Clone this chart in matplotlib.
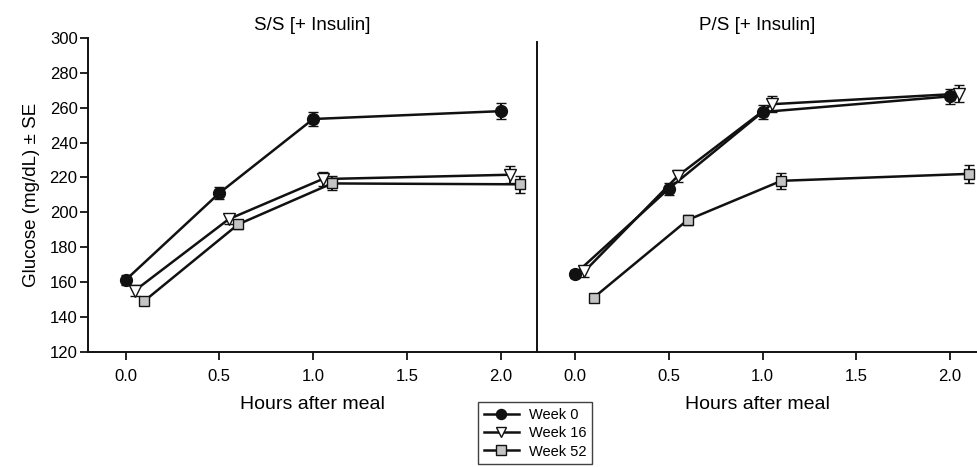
#!/usr/bin/env python3
"""Glucose response after a meal, S/S vs P/S diets with insulin, weeks 0/16/52."""

import matplotlib
matplotlib.use("Agg")
import matplotlib.pyplot as plt
from matplotlib.lines import Line2D

plt.rcParams["font.family"] = ["Liberation Sans", "DejaVu Sans"]

hours = [0.0, 0.5, 1.0, 2.0]
week_labels = ["Week 0", "Week 16", "Week 52"]
panel_titles = ["S/S [+ Insulin]", "P/S [+ Insulin]"]

# S/S panel
ss_week0 = [161.0, 211.0, 253.5, 258.0]
ss_week0_se = [3.0, 3.5, 4.0, 4.5]
ss_week16 = [155.0, 196.0, 219.0, 221.5]
ss_week16_se = [3.0, 3.0, 4.0, 5.0]
ss_week52 = [149.0, 193.0, 216.5, 216.0]
ss_week52_se = [2.0, 2.5, 4.0, 5.0]

# P/S panel
ps_week0 = [164.5, 213.5, 257.5, 266.5]
ps_week0_se = [2.5, 3.5, 4.0, 4.5]
ps_week16 = [166.0, 221.0, 262.0, 268.0]
ps_week16_se = [3.0, 3.5, 4.5, 5.0]
ps_week52 = [151.0, 195.5, 218.0, 222.0]
ps_week52_se = [1.5, 3.0, 4.5, 5.0]

y_ticks = [120, 140, 160, 180, 200, 220, 240, 260, 280, 300]
x_ticks = [0.0, 0.5, 1.0, 1.5, 2.0]

# style per week: marker, face colour, x jitter so the points do not overlap
STYLES = [
    dict(marker="o", mfc="#111111", ms=8.5, dx=0.0),
    dict(marker="v", mfc="white", ms=8.5, dx=0.05),
    dict(marker="s", mfc="#c4c4c4", ms=7.8, dx=0.10),
]

fig = plt.figure(figsize=(9.78, 4.67), dpi=100)
ax_l = fig.add_axes([0.0900, 0.2473, 0.4591, 0.6713])
ax_r = fig.add_axes([0.5491, 0.2473, 0.4499, 0.6713])

panels = [
    (ax_l, [(ss_week0, ss_week0_se), (ss_week16, ss_week16_se), (ss_week52, ss_week52_se)], (-0.2, 2.193)),
    (ax_r, [(ps_week0, ps_week0_se), (ps_week16, ps_week16_se), (ps_week52, ps_week52_se)], (-0.203, 2.144)),
]

for i, (ax, series, xlim) in enumerate(panels):
    for (vals, se), st in zip(series, STYLES):
        xs = [h + st["dx"] for h in hours]
        ax.errorbar(
            xs, vals, yerr=se, color="#111111", lw=1.8, marker=st["marker"],
            mfc=st["mfc"], mec="#111111", mew=1.0, ms=st["ms"],
            capsize=3.5, capthick=1.5, elinewidth=1.4,
        )

    ax.set_xlim(*xlim)
    ax.set_ylim(120, 300)
    ax.set_xticks(x_ticks)
    ax.set_xticklabels([f"{t:.1f}" for t in x_ticks])
    ax.spines["top"].set_visible(False)
    ax.spines["right"].set_visible(False)
    for s in ("left", "bottom"):
        ax.spines[s].set_linewidth(1.4)
        ax.spines[s].set_color("#111111")
    ax.tick_params(direction="out", length=5.5, width=1.3, labelsize=12, color="#111111")
    ax.tick_params(axis="x", pad=7)
    ax.tick_params(axis="y", pad=2)
    ax.set_xlabel("Hours after meal", fontsize=14, labelpad=9)
    ax.set_title(panel_titles[i], fontsize=13.5, pad=6)

ax_l.set_yticks(y_ticks)
ax_l.set_ylabel("Glucose (mg/dL) \u00b1 SE", fontsize=13.5, labelpad=7)

ax_r.set_yticks([])
ax_r.spines["left"].set_bounds(120, 297.7)

handles = [
    Line2D([], [], color="#111111", lw=1.8, marker=st["marker"], mfc=st["mfc"],
           mec="#111111", mew=1.0, ms=st["ms"] * 0.85)
    for st in STYLES
]
leg = fig.legend(
    handles=handles, labels=week_labels, loc="upper center",
    bbox_to_anchor=(535 / 978, 1 - 402 / 467), fontsize=10.5, frameon=True,
    fancybox=False, edgecolor="#111111", handlelength=2.4, handletextpad=0.7,
    labelspacing=0.3, borderpad=0.4, borderaxespad=0,
)
leg.get_frame().set_linewidth(1.0)

fig.savefig("out.png", dpi=100)
